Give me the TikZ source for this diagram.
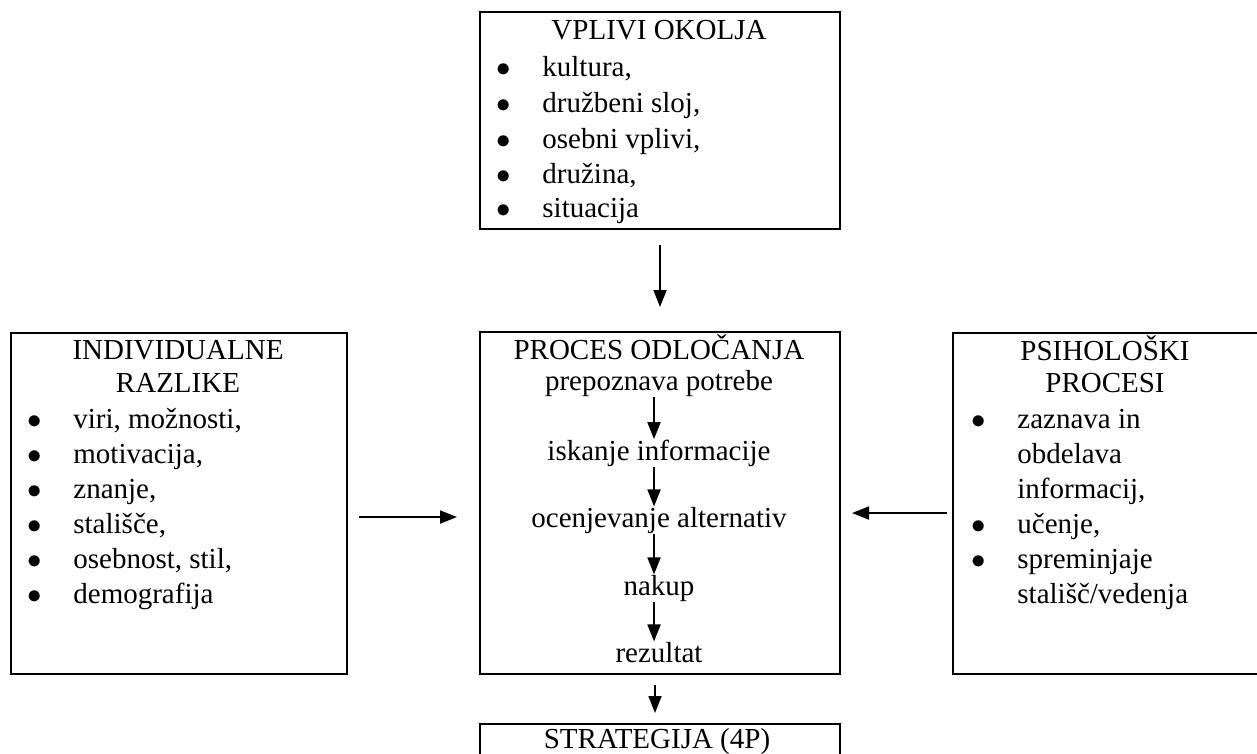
\documentclass[tikz,border=0pt]{standalone}
\usepackage{fontspec}
\setmainfont{Liberation Serif}
\usetikzlibrary{arrows.meta}

% bullet and indent for the lists
\newcommand{\bl}{\makebox[23pt][l]{$\bullet$}}
\newcommand{\nbl}{\makebox[23pt][l]{}}

\begin{document}
\begin{tikzpicture}[x=0.5pt, y=-0.5pt, >={Triangle[length=8.5pt,width=6.5pt]},
	every node/.style={font=\fontsize{14.5pt}{17.5pt}\selectfont, inner sep=0pt},
	box/.style={draw, line width=1pt, anchor=north west},
	ttl/.style={anchor=base},
	ln/.style={anchor=base west},
	arr/.style={->, line width=0.9pt},
	stp/.style={arr, transform canvas={xshift=-2.5pt}}]
	\useasboundingbox[fill=white] (0,0) rectangle (1257,754);
	
	% ==================== okvirji ====================
	\node[box, minimum width=180pt, minimum height=108.5pt] (okolje) at (479,11) {};
	\node[box, minimum width=180pt, minimum height=171pt] (odl) at (479,331) {};
	\node[box, minimum width=168pt, minimum height=170.5pt] (indiv) at (10,332) {};
	\node[box, minimum width=154pt, minimum height=170.5pt] (psih) at (952,332) {};
	\node[box, minimum width=180pt, minimum height=30pt] (strat) at (479,723) {};
	
	% ==================== vplivi okolja ====================
	\node[ttl] (okt) at (659,40) {VPLIVI OKOLJA};
	\node[ln] (ok1) at (496,77) {\bl kultura,};
	\node[ln] (ok2) at (496,113) {\bl družbeni sloj,};
	\node[ln] (ok3) at (496,149) {\bl osebni vplivi,};
	\node[ln] (ok4) at (496,184) {\bl družina,};
	\node[ln] (ok5) at (496,218) {\bl situacija};
	
	% ==================== individualne razlike ====================
	\node[ttl] (irt1) at (178,359) {INDIVIDUALNE};
	\node[ttl] (irt2) at (178,392) {RAZLIKE};
	\node[ln] (ir1) at (27,428) {\bl viri, možnosti,};
	\node[ln] (ir2) at (27,463) {\bl motivacija,};
	\node[ln] (ir3) at (27,498) {\bl znanje,};
	\node[ln] (ir4) at (27,533) {\bl stališče,};
	\node[ln] (ir5) at (27,568) {\bl osebnost, stil,};
	\node[ln] (ir6) at (27,603) {\bl demografija};
	
	% ==================== proces odločanja ====================
	\node[ttl] (odt) at (659,359) {PROCES ODLOČANJA};
	\node[ttl] (s1) at (659,390) {prepoznava potrebe};
	\node[ttl] (s2) at (659,460) {iskanje informacije};
	\node[ttl] (s3) at (659,527) {ocenjevanje alternativ};
	\node[ttl] (s4) at (659,595) {nakup};
	\node[ttl] (s5) at (659,662) {rezultat};
	
	% ==================== psihološki procesi ====================
	\node[ttl] (ppt1) at (1105,360) {PSIHOLOŠKI};
	\node[ttl] (ppt2) at (1105,392) {PROCESI};
	\node[ln] (pp1) at (971,428) {\bl zaznava in};
	\node[ln] (pp2) at (971,463) {\nbl obdelava};
	\node[ln] (pp3) at (971,498) {\nbl informacij,};
	\node[ln] (pp4) at (971,533) {\bl učenje,};
	\node[ln] (pp5) at (971,568) {\bl spreminjaje};
	\node[ln] (pp6) at (971,603) {\nbl stališč/vedenja};
	
	% ==================== strategija ====================
	\node[ttl] (stt) at (657,748) {STRATEGIJA (4P)};
	
	% ==================== puščice ====================
	\draw[arr, shorten <=7.5pt, shorten >=12pt] (okolje.south) -- (odl.north);
	\draw[arr, shorten <=5.5pt, shorten >=11pt] ([yshift=1.5pt]indiv.east |- s3.center) -- ([yshift=1.5pt]odl.west |- s3.center);
	\draw[arr, shorten <=2.5pt, shorten >=5.5pt] ([yshift=3.5pt]psih.west |- s3.center) -- ([yshift=3.5pt]odl.east |- s3.center);
	\draw[stp] (s1.south) -- (s2.north);
	\draw[stp] (s2.south) -- (s3.north);
	\draw[stp] (s3.south) -- (s4.north);
	\draw[stp] (s4.south) -- (s5.north);
	\draw[stp, shorten <=5pt, shorten >=5pt] (odl.south) -- (strat.north);
\end{tikzpicture}
\end{document}
